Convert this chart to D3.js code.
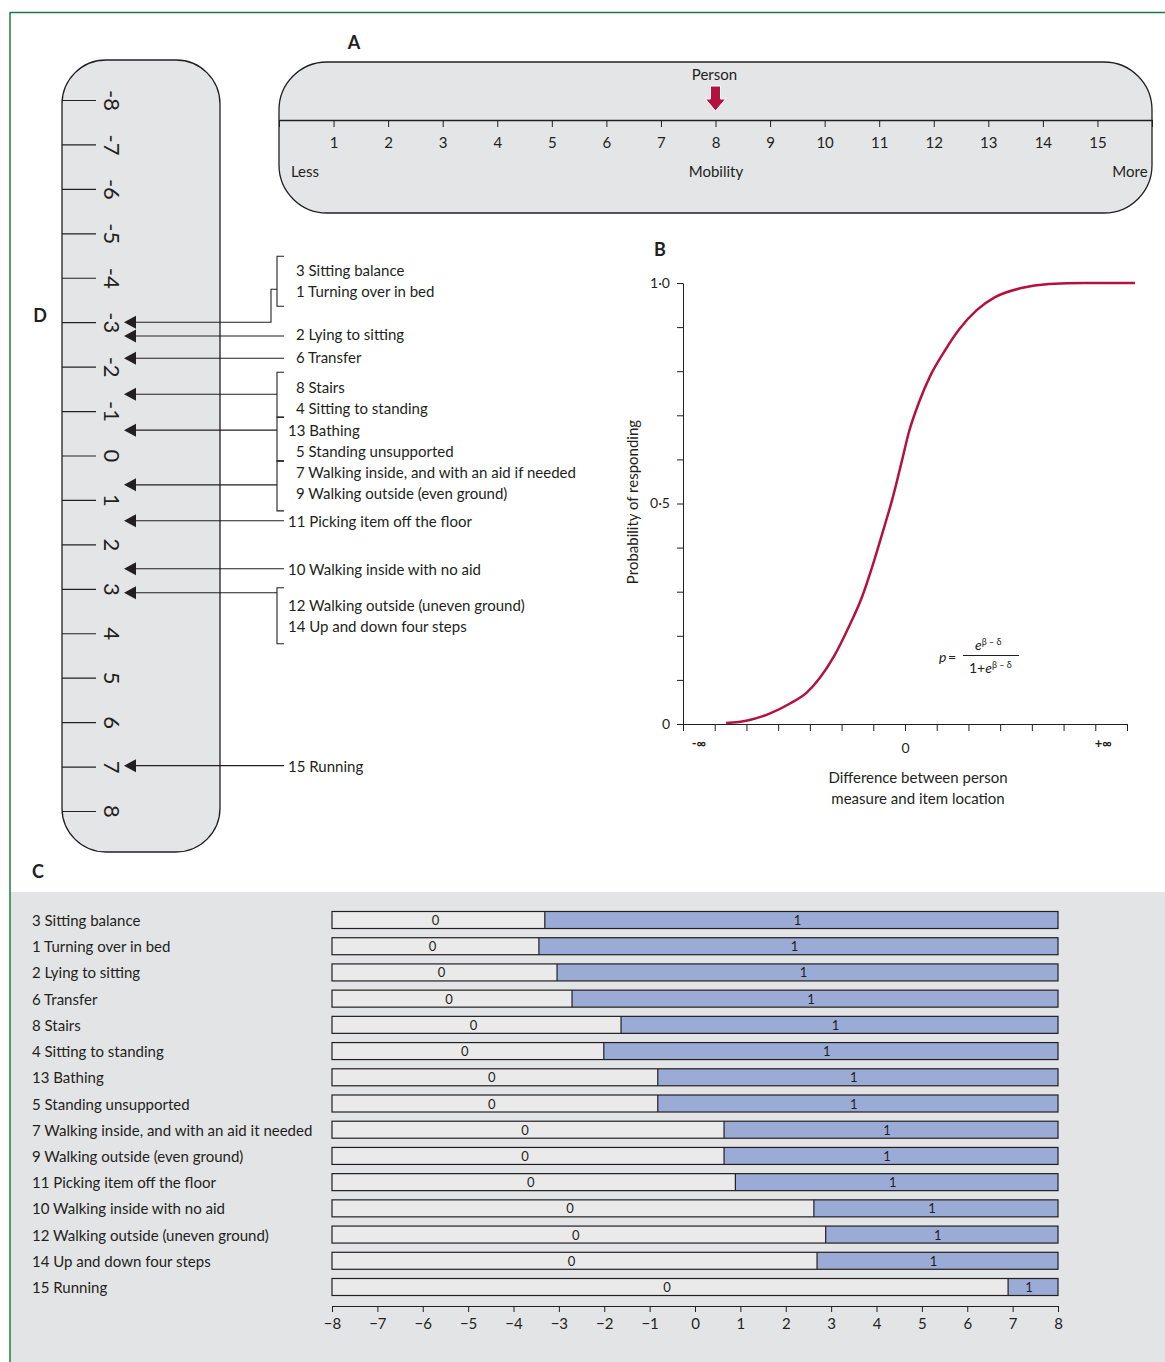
<!DOCTYPE html>
<html lang="en">
<head>
<meta charset="UTF-8">
<title>Rasch mobility scale</title>
<script src="https://cdn.jsdelivr.net/npm/d3@7/dist/d3.min.js"></script>
<style>
  body { margin: 0; background: #fff; }
  svg text { font-family: Lato, "Noto Sans", sans-serif; fill: #231f20; }
  .axis path, .axis line { stroke: #231f20; }
</style>
</head>
<body>
<svg id="fig" width="1165" height="1362"></svg>
<script>
// ---- data ----
// panel A: mobility scale
const mobilityTicks = d3.range(0, 17);
const personMobility = 8;

// panel B: item characteristic curve
const curveDiff = [-5.64, -4.97, -4.29, -3.61, -3.10, -2.70, -2.25, -1.80, -1.35, -1.01, -0.67, -0.38,
                   -0.10, 0.12, 0.46, 0.80, 1.26, 1.71, 2.27, 2.84, 3.63, 4.54, 5.67, 7.25];
const curveProb = [0.002, 0.008, 0.023, 0.047, 0.071, 0.103, 0.152, 0.216, 0.289, 0.362, 0.443, 0.515,
                   0.596, 0.661, 0.733, 0.790, 0.847, 0.895, 0.939, 0.968, 0.988, 0.998, 1.0, 1.0];
const probTicks = d3.range(0, 11).map(d => d / 10);
const diffTicks = d3.range(-7, 8);

// panel C: item thresholds (logits)
const cItems = ["3 Sitting balance", "1 Turning over in bed", "2 Lying to sitting", "6 Transfer",
  "8 Stairs", "4 Sitting to standing", "13 Bathing", "5 Standing unsupported",
  "7 Walking inside, and with an aid it needed", "9 Walking outside (even ground)",
  "11 Picking item off the floor", "10 Walking inside with no aid",
  "12 Walking outside (uneven ground)", "14 Up and down four steps", "15 Running"];
const cThresholds = [-3.31, -3.44, -3.04, -2.71, -1.63, -2.01, -0.82, -0.82, 0.64, 0.64, 0.89, 2.62, 2.88, 2.69, 6.90];
const logitTicks = d3.range(-8, 9);

// panel D: item locations on the ruler
const dGroupItems = [
  ["3 Sitting balance", "1 Turning over in bed"],
  ["2 Lying to sitting"],
  ["6 Transfer"],
  ["8 Stairs", "4 Sitting to standing"],
  ["13 Bathing", "5 Standing unsupported"],
  ["7 Walking inside, and with an aid if needed", "9 Walking outside (even ground)"],
  ["11 Picking item off the floor"],
  ["10 Walking inside with no aid"],
  ["12 Walking outside (uneven ground)", "14 Up and down four steps"],
  ["15 Running"]
];
const dGroupLoc = [-3.0, -2.69, -2.19, -1.38, -0.57, 0.66, 1.47, 2.55, 3.09, 6.98];

// label layout in panel D (px, relative to the arrow)
const dLabelShift = [-52, -2, -1, -7, 0, -13, 0, 0, 12, 0];
const dBracket = [[-66, -16], null, null, [-22, 23], [-13, 31], [-24, 26], null, null, [-5, 51], null];

const ink = "#231f20", panelFill = "#e4e5e7", crimson = "#b4123e", blue = "#9aabd6";

const svg = d3.select("#fig");

// frame
svg.append("rect").attr("x", 10).attr("y", 892).attr("width", 1155).attr("height", 470).attr("fill", "#e3e4e6");
svg.append("line").attr("x1", 10).attr("x2", 1165).attr("y1", 12.5).attr("y2", 12.5).attr("stroke", "#1e7b48").attr("stroke-width", 1.5);
svg.append("line").attr("x1", 10).attr("x2", 10).attr("y1", 12).attr("y2", 1362).attr("stroke", "#1e7b48").attr("stroke-width", 1.5);

// panel letters
[["A", 354, 42], ["B", 660, 249], ["C", 38, 871], ["D", 40, 315]].forEach(([t, x, y]) => {
  svg.append("text").attr("x", x).attr("y", y).attr("text-anchor", "middle").attr("dominant-baseline", "central")
    .style("font-size", "18px").style("font-weight", 700).text(t);
});

// ---------- panel A ----------
const xA = d3.scaleLinear().domain([0, 16]).range([279, 1152]);
svg.append("rect").attr("x", 279).attr("y", 62).attr("width", 873).attr("height", 151)
  .attr("rx", 48).attr("fill", panelFill).attr("stroke", ink).attr("stroke-width", 1.3);
const gA = svg.append("g").attr("class", "axis").attr("transform", "translate(0,120)")
  .call(d3.axisBottom(xA).tickValues(mobilityTicks).tickSize(7).tickSizeOuter(0).tickPadding(10)
    .tickFormat(d => (d >= 1 && d <= 15) ? d : ""));
gA.selectAll("text").style("font-size", "15px");
gA.select(".domain").attr("stroke-width", 1.3);
[["Less", 305], ["Mobility", 716], ["More", 1130]].forEach(([t, x]) => {
  svg.append("text").attr("x", x).attr("y", 171).attr("text-anchor", "middle").attr("dominant-baseline", "central")
    .style("font-size", "15px").text(t);
});
svg.append("text").attr("x", xA(personMobility) - 1).attr("y", 74).attr("text-anchor", "middle")
  .attr("dominant-baseline", "central").style("font-size", "15px").text("Person");
{
  const px = xA(personMobility);
  svg.append("path")
    .attr("d", `M${px - 5},86 L${px + 5},86 L${px + 5},99 L${px + 10},99 L${px},111 L${px - 10},99 L${px - 5},99 Z`)
    .attr("fill", crimson).attr("stroke", "#fff").attr("stroke-width", 1);
}

// ---------- panel B ----------
const xB = d3.scaleLinear().domain([-7, 7]).range([683, 1127]);
const yB = d3.scaleLinear().domain([0, 1]).range([724, 283]);
const gBy = svg.append("g").attr("class", "axis").attr("transform", "translate(683,0)")
  .call(d3.axisLeft(yB).tickValues(probTicks).tickSize(6).tickSizeOuter(0).tickPadding(7)
    .tickFormat(d => { const k = Math.round(d * 10); return k === 0 ? "0" : k === 5 ? "0·5" : k === 10 ? "1·0" : ""; }));
gBy.selectAll("text").style("font-size", "14px");
const gBx = svg.append("g").attr("class", "axis").attr("transform", "translate(0,724)")
  .call(d3.axisBottom(xB).tickValues(diffTicks).tickSize(7).tickSizeOuter(0).tickPadding(12)
    .tickFormat(d => d === 0 ? "0" : ""));
gBx.selectAll("text").style("font-size", "14px");
svg.append("text").attr("x", xB(-6.5)).attr("y", 743).attr("text-anchor", "middle").attr("dominant-baseline", "central")
  .style("font-size", "13px").style("font-weight", 700).text("-∞");
svg.append("text").attr("x", xB(6.25)).attr("y", 743).attr("text-anchor", "middle").attr("dominant-baseline", "central")
  .style("font-size", "13px").style("font-weight", 700).text("+∞");
svg.append("text").attr("transform", "translate(632,502) rotate(-90)").attr("text-anchor", "middle")
  .attr("dominant-baseline", "central").style("font-size", "15px").text("Probability of responding");
["Difference between person", "measure and item location"].forEach((t, i) => {
  svg.append("text").attr("x", 918).attr("y", 777 + i * 21).attr("text-anchor", "middle")
    .attr("dominant-baseline", "central").style("font-size", "15px").text(t);
});
svg.append("path")
  .datum(curveDiff.map((d, i) => [d, curveProb[i]]))
  .attr("d", d3.line().x(d => xB(d[0])).y(d => yB(d[1])).curve(d3.curveMonotoneX))
  .attr("fill", "none").attr("stroke", crimson).attr("stroke-width", 2.5);

// formula
{
  const f = svg.append("g").style("font-size", "14px");
  f.append("text").attr("x", 939).attr("y", 662).style("font-style", "italic").text("p");
  f.append("text").attr("x", 948).attr("y", 662).text("=");
  f.append("line").attr("x1", 963).attr("x2", 1019).attr("y1", 655.5).attr("y2", 655.5).attr("stroke", ink).attr("stroke-width", 1);
  const num = f.append("text").attr("x", 975).attr("y", 650);
  num.append("tspan").style("font-style", "italic").text("e");
  num.append("tspan").attr("dy", -5).style("font-size", "9px").text("β – δ");
  const den = f.append("text").attr("x", 969).attr("y", 673);
  den.append("tspan").text("1+");
  den.append("tspan").style("font-style", "italic").text("e");
  den.append("tspan").attr("dy", -5).style("font-size", "9px").text("β – δ");
}

// ---------- panel C ----------
const xC = d3.scaleLinear().domain([-8, 8]).range([332, 1058]);
const yC = d3.scalePoint().domain(cItems).range([920, 1287]);
const barH = 17;
const rows = svg.append("g").selectAll("g").data(cItems).join("g")
  .attr("transform", d => `translate(0,${yC(d)})`);
rows.append("text").attr("x", 32).attr("dominant-baseline", "central").style("font-size", "15px").text(d => d);
rows.append("rect").attr("x", xC(-8)).attr("y", -barH / 2).attr("height", barH)
  .attr("width", (d, i) => xC(cThresholds[i]) - xC(-8)).attr("fill", "#eaeaeb");
rows.append("rect").attr("x", (d, i) => xC(cThresholds[i])).attr("y", -barH / 2).attr("height", barH)
  .attr("width", (d, i) => xC(8) - xC(cThresholds[i])).attr("fill", blue);
rows.append("rect").attr("x", xC(-8)).attr("y", -barH / 2).attr("height", barH).attr("width", xC(8) - xC(-8))
  .attr("fill", "none").attr("stroke", ink).attr("stroke-width", 1.2);
rows.append("line").attr("x1", (d, i) => xC(cThresholds[i])).attr("x2", (d, i) => xC(cThresholds[i]))
  .attr("y1", -barH / 2).attr("y2", barH / 2).attr("stroke", ink).attr("stroke-width", 1.2);
rows.append("text").attr("x", (d, i) => (xC(-8) + xC(cThresholds[i])) / 2 - 3).attr("text-anchor", "middle")
  .attr("dominant-baseline", "central").style("font-size", "13px").text("0");
rows.append("text").attr("x", (d, i) => (xC(cThresholds[i]) + xC(8)) / 2 - 4).attr("text-anchor", "middle")
  .attr("dominant-baseline", "central").style("font-size", "13px").text("1");
const gC = svg.append("g").attr("class", "axis").attr("transform", "translate(0,1306)")
  .call(d3.axisBottom(xC).tickValues(logitTicks).tickSize(6).tickSizeOuter(0).tickPadding(6)
    .tickFormat(d => d < 0 ? "−" + Math.abs(d) : d));
gC.selectAll("text").style("font-size", "15px");
gC.select(".domain").attr("stroke-width", 1.2);

// ---------- panel D ----------
const yD = d3.scaleLinear().domain([-8, 8]).range([100, 811]);
svg.append("rect").attr("x", 62).attr("y", 60).attr("width", 158).attr("height", 792)
  .attr("rx", 44).attr("fill", panelFill).attr("stroke", ink).attr("stroke-width", 1.3);
const gD = svg.append("g").attr("class", "axis").attr("transform", "translate(62,0)")
  .call(d3.axisRight(yD).tickValues(logitTicks).tickSize(34).tickFormat(d => d < 0 ? "-" + Math.abs(d) : d));
gD.select(".domain").remove();
gD.selectAll("line").attr("stroke-width", 1.2);
gD.selectAll("text").attr("x", 50).attr("dy", null).attr("text-anchor", "middle").attr("dominant-baseline", "central")
  .attr("transform", "rotate(90,50,0)").style("font-size", "22px");

const bracketX = 277, tipX = 124;
dGroupItems.forEach((items, gi) => {
  const ay = yD(dGroupLoc[gi]);
  const br = dBracket[gi];
  const g = svg.append("g");
  g.append("path").attr("d", `M${tipX},${ay} L${tipX + 12},${ay - 6.5} L${tipX + 12},${ay + 6.5} Z`).attr("fill", ink);
  if (br) {
    const top = ay + br[0], bot = ay + br[1];
    g.append("path").attr("d", `M${bracketX + 7},${top} H${bracketX} V${bot} H${bracketX + 7}`)
      .attr("fill", "none").attr("stroke", ink).attr("stroke-width", 1.1);
    if (ay > bot) {
      const joinY = (top + bot) / 2 + 8;
      g.append("path").attr("d", `M${tipX + 10},${ay} H${bracketX - 6} V${joinY} H${bracketX}`)
        .attr("fill", "none").attr("stroke", ink).attr("stroke-width", 1.1);
    } else {
      g.append("line").attr("x1", tipX + 10).attr("x2", bracketX).attr("y1", ay).attr("y2", ay)
        .attr("stroke", ink).attr("stroke-width", 1.1);
    }
  } else {
    g.append("line").attr("x1", tipX + 10).attr("x2", bracketX + 7).attr("y1", ay).attr("y2", ay)
      .attr("stroke", ink).attr("stroke-width", 1.1);
  }
  items.forEach((t, k) => {
    const twoDigit = /^\d\d/.test(t);
    g.append("text").attr("x", twoDigit ? 288 : 296).attr("y", ay + dLabelShift[gi] + k * 21)
      .attr("dominant-baseline", "central").style("font-size", "15px").text(t);
  });
});
</script>
</body>
</html>
